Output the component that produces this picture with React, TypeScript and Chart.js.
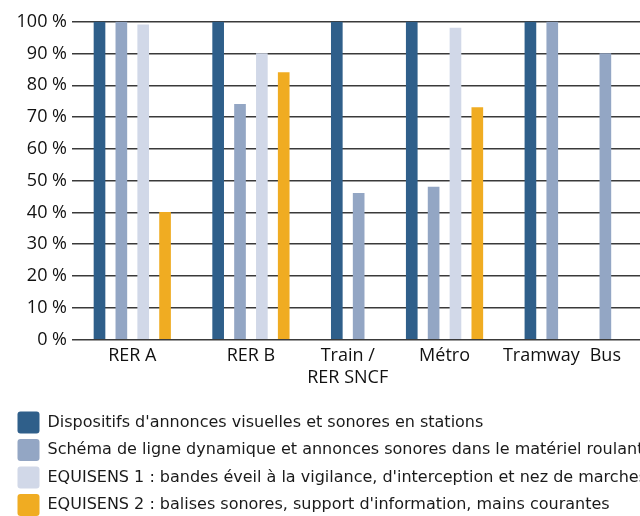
import React, { useEffect, useRef } from "react";
import { Chart, registerables } from "chart.js";

Chart.register(...registerables);

const categories: (string | string[])[] = ["RER A", "RER B", ["Train /", "RER SNCF"], "Métro", "Tramway", "Bus"];

const seriesLabels = [
  "Dispositifs d'annonces visuelles et sonores en stations",
  "Schéma de ligne dynamique et annonces sonores dans le matériel roulant",
  "EQUISENS 1 : bandes éveil à la vigilance, d'interception et nez de marches",
  "EQUISENS 2 : balises sonores, support d'information, mains courantes",
];

const stationAnnouncements = [100, 100, 100, 100, 100, null];
const dynamicLineMap = [100, 74, 46, 48, 100, 90];
const equisens1 = [99, 90, null, 98, null, null];
const equisens2 = [40, 84, null, 73, null, null];

const seriesValues = [stationAnnouncements, dynamicLineMap, equisens1, equisens2];
const seriesColors = ["#2f5f8a", "#93a6c4", "#d1d8e8", "#f0ac22"];

const yTicks = [0, 10, 20, 30, 40, 50, 60, 70, 80, 90, 100];

// layout of compact groups: consecutive slots, extra gap between groups
const GROUP_GAP = 1.43;

function buildLayout() {
  const points: { x: number; y: number }[][] = seriesValues.map(() => []);
  const centers: number[] = [];
  let slot = 0;
  categories.forEach((_, k) => {
    const xs: number[] = [];
    seriesValues.forEach((vals, s) => {
      const v = vals[k];
      if (v !== null && v !== undefined) {
        const x = slot + k * GROUP_GAP;
        points[s].push({ x, y: v });
        xs.push(x);
        slot++;
      }
    });
    centers.push((xs[0] + xs[xs.length - 1]) / 2);
  });
  return { points, centers };
}

export default function App() {
  const canvasRef = useRef<HTMLCanvasElement | null>(null);

  useEffect(() => {
    if (!canvasRef.current) return;
    const { points, centers } = buildLayout();
    const chart = new Chart(canvasRef.current, {
      type: "bar",
      data: {
        datasets: seriesValues.map((_, s) => ({
          label: seriesLabels[s],
          data: points[s],
          backgroundColor: seriesColors[s],
          borderWidth: 0,
          barThickness: 11,
          grouped: false,
        })),
      },
      options: {
        animation: false,
        responsive: true,
        maintainAspectRatio: false,
        layout: { padding: { top: 21.7, right: 0, bottom: 0, left: 0 } },
        plugins: {
          tooltip: { enabled: false },
          legend: {
            position: "bottom",
            align: "start",
            labels: {
              boxWidth: 22,
              boxHeight: 22,
              padding: 5.5,
              useBorderRadius: true,
              borderRadius: 3,
              color: "#1a1a1a",
              font: { family: "DejaVu Sans", size: 16 },
            },
          },
        },
        scales: {
          x: {
            type: "linear",
            offset: false,
            min: -1.2586,
            max: 28.03,
            grid: { display: false },
            border: { display: false },
            afterFit: (scale: any) => {
              scale.height = 66.5;
            },
            afterBuildTicks: (scale: any) => {
              scale.ticks = centers.map((v) => ({ value: v }));
            },
            ticks: {
              autoSkip: false,
              maxRotation: 0,
              padding: -2,
              color: "#111",
              font: { family: "Open Sans", size: 18, lineHeight: 1.2 },
              callback: (_v: any, i: number) => categories[i] as any,
            },
          },
          y: {
            min: 0,
            max: 100,
            afterFit: (scale: any) => {
              scale.width = 60;
            },
            afterBuildTicks: (scale: any) => {
              scale.ticks = yTicks.map((v) => ({ value: v }));
            },
            grid: { color: "#3a3a3a", lineWidth: 1.5, drawTicks: false },
            border: { display: false },
            ticks: {
              padding: 5,
              color: "#111",
              font: { family: "Open Sans", size: 18 },
              callback: (v: any) => `${v} %`,
            },
          },
        },
      },
    });
    return () => chart.destroy();
  }, []);

  return (
    <div style={{ position: "fixed", left: 0, top: 0, width: 640, height: 516, overflow: "hidden", background: "#fff" }}>
      <div style={{ position: "absolute", left: 12, top: 0, width: 700, height: 526 }}>
        <canvas ref={canvasRef} />
      </div>
    </div>
  );
}
